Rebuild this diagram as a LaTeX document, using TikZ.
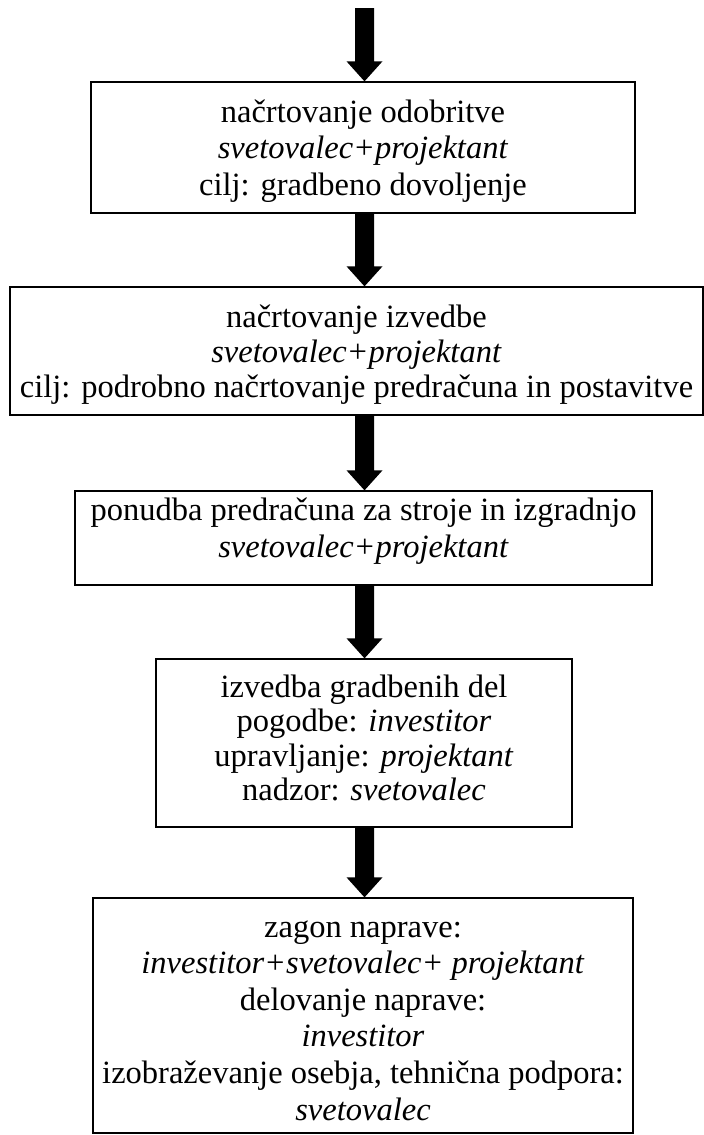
\documentclass[tikz,border=0pt]{standalone}
\usepackage{fontspec}
\setmainfont{Liberation Serif}
\usetikzlibrary{calc}
\tikzset{flowbox/.style={draw, line width=1.3pt, inner sep=0pt, rectangle, fill=white}}
\newcommand{\btext}[5]{\parbox[c][#2][t]{#1}{\centering\fontsize{32.5pt}{#4}\selectfont\vspace*{#3}#5}}
\newcommand{\bigarrow}[2]{%
  \fill ($(#1)+(-9.5,0)$) -- ($(#2)+(-9.5,-20)$) -- ($(#2)+(-18,-20)$) -- (#2)
        -- ($(#2)+(18,-20)$) -- ($(#2)+(9.5,-20)$) -- ($(#1)+(9.5,0)$) -- cycle;}
\begin{document}
\begin{tikzpicture}[x=1pt,y=-1pt]
\fill[white] (0,0) rectangle (704,1135);
\useasboundingbox (0,0) rectangle (704,1135);
\coordinate (top) at (364.5,8);
\node[flowbox] (b1) at (363,147.5) {\btext{544pt}{131pt}{14.45pt}{36.5pt}{\strut načrtovanje odobritve\\ \textit{svetovalec+projektant}\\ cilj: gradbeno dovoljenje}};
\node[flowbox] (b2) at (356.5,351) {\btext{693pt}{128pt}{15.5pt}{35pt}{\strut načrtovanje izvedbe\\ \textit{svetovalec+projektant}\\ cilj: podrobno načrtovanje predračuna in postavitve}};
\node[flowbox] (b3) at (363.5,538) {\btext{577pt}{94pt}{3.1pt}{37pt}{\strut ponudba predračuna za stroje in izgradnjo\\ \textit{svetovalec+projektant}}};
\node[flowbox] (b4) at (364,743) {\btext{416pt}{168pt}{13.85pt}{34.5pt}{\strut izvedba gradbenih del\\ pogodbe: \textit{investitor}\\ upravljanje: \textit{projektant}\\ nadzor: \textit{svetovalec}}};
\node[flowbox] (b5) at (363,1015.5) {\btext{540pt}{235pt}{13.38pt}{36.6pt}{\strut zagon naprave:\\ \textit{investitor+svetovalec+ projektant}\\ delovanje naprave:\\ \textit{investitor}\\ izobraževanje osebja, tehnična podpora:\\ \textit{svetovalec}}};
\bigarrow{top}{top |- b1.north}
\bigarrow{top |- b1.south}{top |- b2.north}
\bigarrow{top |- b2.south}{top |- b3.north}
\bigarrow{top |- b3.south}{top |- b4.north}
\bigarrow{top |- b4.south}{top |- b5.north}
\end{tikzpicture}
\end{document}
